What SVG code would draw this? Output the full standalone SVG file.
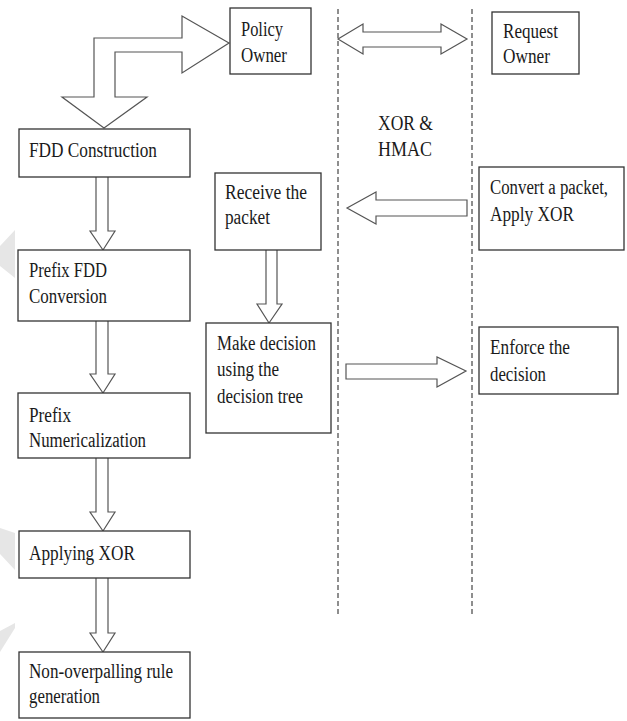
<svg xmlns="http://www.w3.org/2000/svg" width="627" height="721" viewBox="0 0 627 721">
<style>
.box{fill:#fff;stroke:#333;stroke-width:1.3}
.arr{fill:#fff;stroke:#555;stroke-width:1.2;stroke-linejoin:miter}
.lane{stroke:#444;stroke-width:1.2;stroke-dasharray:5 3;fill:none}
.wm{fill:#e6e6e6;stroke:none}
.t{font-family:"Times New Roman",Times,Tinos,"Liberation Serif","Noto Serif","DejaVu Serif",serif;font-size:20px;fill:#1a1a1a}
</style>
<rect width="627" height="721" fill="#fff"/>
<g id="watermark">
<polygon class="wm" points="0,246 15,230 15,278 0,266"/>
<polygon class="wm" points="0,528 15,533 15,570 0,554"/>
<polygon class="wm" points="0,631 15,623 15,628 0,652"/>
</g>
<g id="lanes">
<line class="lane" x1="338" y1="9" x2="338" y2="617"/>
<line class="lane" x1="472" y1="9" x2="472" y2="617"/>
</g>
<g id="connectors">
<path class="arr" d="M94,97 L94,38 L182,38 L182,16 L229,43 L182,73 L182,52 L115,52 L115,97 L147,97 L104,128 L62,97 Z"/>
<path class="arr" d="M338,39 L363,24 L363,32 L441,32 L441,24 L467,39 L441,54 L441,47 L363,47 L363,54 Z"/>
<path class="arr" d="M347,208 L376,192 L376,200 L467,200 L467,216 L376,216 L376,224 Z"/>
<path class="arr" d="M346,364 L437,364 L437,357 L466,371 L437,387 L437,379 L346,379 Z"/>
<path class="arr" d="M266,250 L266,304 L257,304 L269,323 L282,304 L277,304 L277,250"/>
<path class="arr" d="M96,177 L96,231 L90,231 L103,250 L115,231 L108,231 L108,177"/>
<path class="arr" d="M96,321 L96,374 L90,374 L103,393 L115,374 L108,374 L108,321"/>
<path class="arr" d="M96,458 L96,512 L90,512 L103,531 L115,512 L108,512 L108,458"/>
<path class="arr" d="M96,578 L96,633 L90,633 L103,652 L115,633 L108,633 L108,578"/>
</g>
<g id="policy-owner">
<rect class="box" x="230" y="8" width="81" height="66"/>
<text class="t" x="241" y="36" textLength="42" lengthAdjust="spacingAndGlyphs">Policy</text>
<text class="t" x="241" y="62" textLength="46" lengthAdjust="spacingAndGlyphs">Owner</text>
</g>
<g id="request-owner">
<rect class="box" x="492" y="12" width="87" height="62"/>
<text class="t" x="503" y="38" textLength="55" lengthAdjust="spacingAndGlyphs">Request</text>
<text class="t" x="503" y="63" textLength="47" lengthAdjust="spacingAndGlyphs">Owner</text>
</g>
<g id="xor-hmac">
<text class="t" x="378" y="130" textLength="55" lengthAdjust="spacingAndGlyphs">XOR &amp;</text>
<text class="t" x="378" y="156" textLength="54" lengthAdjust="spacingAndGlyphs">HMAC</text>
</g>
<g id="fdd-construction">
<rect class="box" x="19" y="129" width="171" height="48"/>
<text class="t" x="29" y="157" textLength="128" lengthAdjust="spacingAndGlyphs">FDD Construction</text>
</g>
<g id="receive-packet">
<rect class="box" x="215" y="173" width="106" height="77"/>
<text class="t" x="225" y="199" textLength="82" lengthAdjust="spacingAndGlyphs">Receive the</text>
<text class="t" x="225" y="224" textLength="45" lengthAdjust="spacingAndGlyphs">packet</text>
</g>
<g id="convert-packet">
<rect class="box" x="479" y="167" width="145" height="83"/>
<text class="t" x="490" y="194" textLength="118" lengthAdjust="spacingAndGlyphs">Convert a packet,</text>
<text class="t" x="490" y="221" textLength="84" lengthAdjust="spacingAndGlyphs">Apply XOR</text>
</g>
<g id="prefix-fdd">
<rect class="box" x="18" y="250" width="172" height="71"/>
<text class="t" x="29" y="277" textLength="78" lengthAdjust="spacingAndGlyphs">Prefix FDD</text>
<text class="t" x="29" y="303" textLength="78" lengthAdjust="spacingAndGlyphs">Conversion</text>
</g>
<g id="make-decision">
<rect class="box" x="206" y="323" width="125" height="110"/>
<text class="t" x="217" y="350" textLength="99" lengthAdjust="spacingAndGlyphs">Make decision</text>
<text class="t" x="217" y="376" textLength="62" lengthAdjust="spacingAndGlyphs">using the</text>
<text class="t" x="217" y="403" textLength="86" lengthAdjust="spacingAndGlyphs">decision tree</text>
</g>
<g id="enforce-decision">
<rect class="box" x="479" y="327" width="139" height="67"/>
<text class="t" x="490" y="354" textLength="80" lengthAdjust="spacingAndGlyphs">Enforce the</text>
<text class="t" x="490" y="381" textLength="56" lengthAdjust="spacingAndGlyphs">decision</text>
</g>
<g id="prefix-numericalization">
<rect class="box" x="18" y="393" width="172" height="65"/>
<text class="t" x="29" y="422" textLength="42" lengthAdjust="spacingAndGlyphs">Prefix</text>
<text class="t" x="29" y="447" textLength="117" lengthAdjust="spacingAndGlyphs">Numericalization</text>
</g>
<g id="applying-xor">
<rect class="box" x="19" y="531" width="171" height="47"/>
<text class="t" x="29" y="560" textLength="106" lengthAdjust="spacingAndGlyphs">Applying XOR</text>
</g>
<g id="rule-generation">
<rect class="box" x="19" y="652" width="171" height="66"/>
<text class="t" x="29" y="678" textLength="144" lengthAdjust="spacingAndGlyphs">Non-overpalling rule</text>
<text class="t" x="29" y="703" textLength="71" lengthAdjust="spacingAndGlyphs">generation</text>
</g>
</svg>
